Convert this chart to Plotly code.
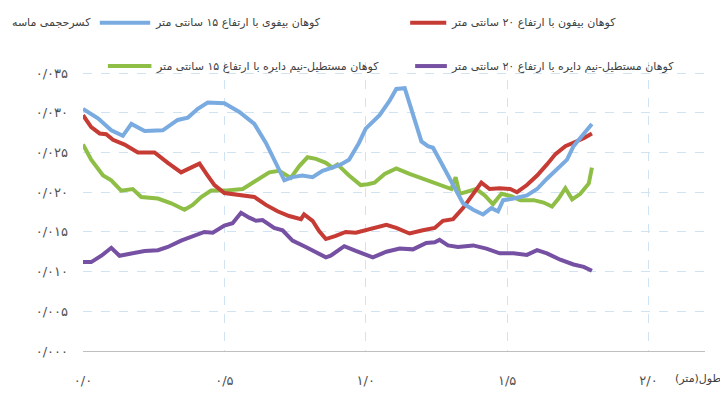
import plotly.graph_objects as go

# Data (length in m, sand volume fraction)
blue_x = [0, 0.053, 0.1, 0.141, 0.171, 0.218, 0.282, 0.335, 0.371, 0.406, 0.441, 0.476, 0.5,
          0.553, 0.606, 0.647, 0.688, 0.712, 0.741, 0.776, 0.812, 0.847, 0.882, 0.912, 0.941, 0.976,
          1.0, 1.049, 1.084, 1.108, 1.138, 1.167, 1.197, 1.220, 1.238, 1.267, 1.309, 1.344, 1.380,
          1.415, 1.444, 1.468, 1.486, 1.523, 1.570, 1.606, 1.641, 1.677, 1.712, 1.735, 1.771, 1.800]
blue_y = [0.0305, 0.0293, 0.0278, 0.0271, 0.0286, 0.0277, 0.0278, 0.0291, 0.0294, 0.0305, 0.0313,
          0.0313, 0.0312, 0.0301, 0.0286, 0.0262, 0.0231, 0.0215, 0.0219, 0.0221, 0.0219, 0.0227,
          0.0231, 0.0235, 0.0241, 0.0262, 0.0280, 0.0297, 0.0315, 0.0330, 0.0331, 0.0300, 0.0264,
          0.0258, 0.0256, 0.0237, 0.0209, 0.0186, 0.0178, 0.0172, 0.0180, 0.0176, 0.0190, 0.0192,
          0.0196, 0.0204, 0.0217, 0.0229, 0.0241, 0.0258, 0.0274, 0.0286]

red_x = [0, 0.029, 0.059, 0.082, 0.106, 0.147, 0.194, 0.253, 0.3, 0.347, 0.382, 0.412, 0.441, 0.465,
         0.5, 0.553, 0.606, 0.647, 0.688, 0.729, 0.771, 0.782, 0.812, 0.835, 0.859, 0.894, 0.929,
         0.965, 1.0, 1.037, 1.073, 1.108, 1.155, 1.202, 1.244, 1.273, 1.309, 1.344, 1.374, 1.409,
         1.438, 1.474, 1.511, 1.535, 1.570, 1.606, 1.641, 1.671, 1.706, 1.735, 1.771, 1.800]
red_y = [0.0297, 0.0282, 0.0274, 0.0273, 0.0266, 0.0260, 0.0250, 0.0250, 0.0237, 0.0225, 0.0231,
         0.0236, 0.0221, 0.0209, 0.0199, 0.0196, 0.0194, 0.0184, 0.0176, 0.0170, 0.0166, 0.0172,
         0.0164, 0.0151, 0.0141, 0.0145, 0.0150, 0.0149, 0.0152, 0.0155, 0.0159, 0.0155, 0.0148,
         0.0152, 0.0155, 0.0164, 0.0166, 0.0180, 0.0194, 0.0212, 0.0204, 0.0205, 0.0204, 0.0200,
         0.0209, 0.0221, 0.0235, 0.0248, 0.0258, 0.0262, 0.0268, 0.0274]

green_x = [0, 0.029, 0.071, 0.1, 0.135, 0.176, 0.206, 0.265, 0.312, 0.359, 0.388, 0.418, 0.453, 0.5,
           0.565, 0.612, 0.659, 0.694, 0.735, 0.765, 0.794, 0.824, 0.859, 0.882, 0.9, 0.941, 0.982,
           1.007, 1.031, 1.067, 1.108, 1.155, 1.202, 1.256, 1.303, 1.318, 1.332, 1.391, 1.421, 1.450,
           1.480, 1.515, 1.547, 1.594, 1.629, 1.659, 1.682, 1.706, 1.730, 1.759, 1.789, 1.800]
green_y = [0.0260, 0.0241, 0.0221, 0.0215, 0.0202, 0.0204, 0.0194, 0.0192, 0.0186, 0.0178, 0.0184,
           0.0194, 0.0202, 0.0202, 0.0204, 0.0215, 0.0225, 0.0227, 0.0218, 0.0233, 0.0244, 0.0242,
           0.0237, 0.0231, 0.0235, 0.0221, 0.0209, 0.0210, 0.0212, 0.0223, 0.0230, 0.0223, 0.0217,
           0.0211, 0.0204, 0.0219, 0.0198, 0.0204, 0.0196, 0.0185, 0.0198, 0.0195, 0.0190, 0.0190,
           0.0187, 0.0182, 0.0192, 0.0205, 0.0191, 0.0198, 0.0211, 0.0231]

purple_x = [0, 0.029, 0.065, 0.1, 0.129, 0.171, 0.218, 0.265, 0.3, 0.347, 0.388, 0.429, 0.459, 0.5,
            0.529, 0.559, 0.588, 0.612, 0.635, 0.676, 0.706, 0.741, 0.788, 0.829, 0.859, 0.876, 0.924,
            0.965, 1.0, 1.025, 1.073, 1.12, 1.167, 1.214, 1.244, 1.261, 1.291, 1.326, 1.380, 1.427,
            1.474, 1.523, 1.570, 1.606, 1.641, 1.688, 1.735, 1.771, 1.800]
purple_y = [0.0112, 0.0112, 0.0120, 0.0130, 0.0120, 0.0123, 0.0126, 0.0127, 0.0131, 0.0139, 0.0145,
            0.0150, 0.0149, 0.0158, 0.0161, 0.0174, 0.0168, 0.0164, 0.0165, 0.0155, 0.0152, 0.0139,
            0.0131, 0.0123, 0.0118, 0.0120, 0.0132, 0.0126, 0.0121, 0.0118, 0.0125, 0.0129, 0.0128,
            0.0136, 0.0137, 0.0140, 0.0133, 0.0131, 0.0133, 0.0129, 0.0123, 0.0123, 0.0121, 0.0127,
            0.0123, 0.0115, 0.0109, 0.0106, 0.0101]

x_ticks = [0, 0.5, 1.0, 1.5, 2.0]
x_tick_labels = ["۰/۰", "۰/۵", "۱/۰", "۱/۵", "۲/۰"]
y_ticks = [0, 0.005, 0.010, 0.015, 0.020, 0.025, 0.030, 0.035]
y_tick_labels = ["۰/۰۰۰", "۰/۰۰۵", "۰/۰۱۰", "۰/۰۱۵", "۰/۰۲۰", "۰/۰۲۵", "۰/۰۳۰", "۰/۰۳۵"]

names = ["کوهان بیفوی با ارتفاع ۱۵ سانتی متر",
         "کوهان بیفون با ارتفاع ۲۰ سانتی متر",
         "کوهان مستطیل-نیم دایره با ارتفاع ۱۵ سانتی متر",
         "کوهان مستطیل-نیم دایره با ارتفاع ۲۰ سانتی متر"]
colors = ["#7aabe0", "#c63b34", "#8fbe47", "#7650a2"]

FONT = "DejaVu Sans"

fig = go.Figure()
series = [(blue_x, blue_y), (red_x, red_y), (green_x, green_y), (purple_x, purple_y)]
# draw order: purple, green, red, blue (blue on top like the reference)
for i in [3, 2, 1, 0]:
    sx, sy = series[i]
    fig.add_trace(go.Scatter(x=sx, y=sy, mode="lines", name=names[i],
                             line=dict(color=colors[i], width=4), showlegend=False))

# hand-built right-to-left legend: line sample sits to the left of the text
# (x0, x1, y) in paper coords for the sample line
legend_pos = [(0.027, 0.108, 1.136), (0.526, 0.584, 1.136),
              (0.040, 0.110, 0.986), (0.534, 0.585, 0.986)]
shapes = []
annotations = []
for i, (x0, x1, ly) in enumerate(legend_pos):
    shapes.append(dict(type="line", xref="paper", yref="paper", x0=x0, x1=x1, y0=ly, y1=ly,
                       line=dict(color=colors[i], width=4)))
    annotations.append(dict(x=x1 + 0.004, y=ly, xref="paper", yref="paper", text=names[i],
                            showarrow=False, xanchor="left", yanchor="middle",
                            font=dict(family=FONT, size=11, color="#404040")))

annotations.append(dict(x=0.016, y=1.136, xref="paper", yref="paper", text="کسرحجمی ماسه",
                        showarrow=False, xanchor="right", yanchor="middle",
                        font=dict(family=FONT, size=11, color="#404040")))
annotations.append(dict(x=0.948, y=-0.095, xref="paper", yref="paper", text="طول(متر)",
                        showarrow=False, xanchor="left", yanchor="middle",
                        font=dict(family=FONT, size=11, color="#404040")))

# page has an 8px body margin, so the figure is sized to fit inside the window
fig.update_layout(
    width=720, height=392,
    margin=dict(l=75, r=23, t=54, b=43),
    paper_bgcolor="white", plot_bgcolor="white",
    shapes=shapes, annotations=annotations,
    xaxis=dict(range=[0, 2.2], tickvals=x_ticks, ticktext=x_tick_labels,
               showgrid=True, gridcolor="#cfe3f3", griddash="dash", gridwidth=1,
               zeroline=False, showline=True, linecolor="#bfbfbf", linewidth=1,
               ticks="", ticklabelstandoff=17,
               tickfont=dict(family=FONT, size=13, color="#505050")),
    yaxis=dict(range=[0, 0.0364], tickvals=y_ticks, ticktext=y_tick_labels,
               showgrid=True, gridcolor="#cfe3f3", griddash="dash", gridwidth=1,
               zeroline=False, showline=False, ticks="", ticklabelstandoff=14,
               tickfont=dict(family=FONT, size=13, color="#505050")),
)

fig.write_html("out.html")
